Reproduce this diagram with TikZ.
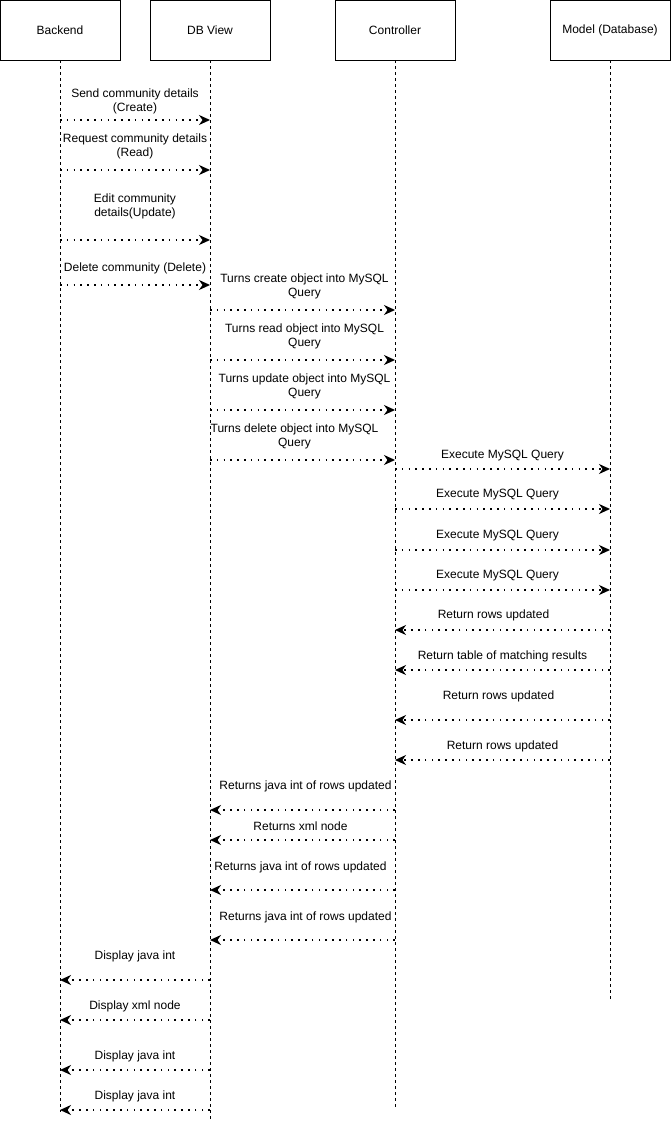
\documentclass[tikz,border=0pt]{standalone}
\usepackage{fontspec}
\setmainfont{Liberation Sans}
\usetikzlibrary{arrows.meta}
\begin{document}
\begin{tikzpicture}[x=1pt, y=-1pt,
    box/.style={draw, line width=0.8pt, minimum width=120pt, minimum height=60pt, inner sep=0pt, font=\fontsize{12}{14}\selectfont},
    life/.style={line width=0.7pt, dash pattern=on 3pt off 3pt},
    msg/.style={-{Stealth[length=11pt, width=10pt, inset=3.5pt]}, line width=1.6pt, dash pattern=on 1.6pt off 5.2pt},
    lbl/.style={align=center, font=\fontsize{12}{14}\selectfont, inner sep=0pt}
]
    \useasboundingbox (0,0) rectangle (671,1122);

    % Participants
    \node[box] (backend) at (60,30) {Backend};
    \node[box] (dbview) at (210,30) {DB View};
    \node[box] (controller) at (395,30) {Controller};
    \node[box] (model) at (610,30) {Model (Database)};

    % Lifelines
    \coordinate (backendEnd) at (60,1112);
    \coordinate (dbviewEnd) at (210,1120);
    \coordinate (controllerEnd) at (395,1108);
    \coordinate (modelEnd) at (610,1000);
    \draw[life] (backend) -- (backendEnd);
    \draw[life] (dbview) -- (dbviewEnd);
    \draw[life] (controller) -- (controllerEnd);
    \draw[life] (model) -- (modelEnd);

    % Backend to DB View
    \draw[msg] (backend |- 0,120) -- node[lbl, yshift=19pt] {Send community details\\(Create)} (dbview |- 0,120);
    \draw[msg] (backend |- 0,170) -- node[lbl, yshift=24pt] {Request community details\\(Read)} (dbview |- 0,170);
    \draw[msg] (backend |- 0,240) -- node[lbl, yshift=34pt] {Edit community\\details(Update)} (dbview |- 0,240);
    \draw[msg] (backend |- 0,285) -- node[lbl, yshift=17pt] {Delete community (Delete)} (dbview |- 0,285);

    % DB View to Controller
    \draw[msg] (dbview |- 0,310) -- node[lbl, yshift=24pt, xshift=2pt] {Turns create object into MySQL\\Query} (controller |- 0,310);
    \draw[msg] (dbview |- 0,360) -- node[lbl, yshift=24pt, xshift=2pt] {Turns read object into MySQL\\Query} (controller |- 0,360);
    \draw[msg] (dbview |- 0,410) -- node[lbl, yshift=24pt, xshift=2pt] {Turns update object into MySQL\\Query} (controller |- 0,410);
    \draw[msg] (dbview |- 0,460) -- node[lbl, yshift=24pt, xshift=-8pt] {Turns delete object into MySQL\\Query} (controller |- 0,460);

    % Controller to Model
    \draw[msg] (controller |- 0,469) -- node[lbl, yshift=13pt] {Execute MySQL Query} (model |- 0,469);
    \draw[msg] (controller |- 0,509) -- node[lbl, yshift=14pt, xshift=-5pt] {Execute MySQL Query} (model |- 0,509);
    \draw[msg] (controller |- 0,550) -- node[lbl, yshift=14pt, xshift=-5pt] {Execute MySQL Query} (model |- 0,550);
    \draw[msg] (controller |- 0,590) -- node[lbl, yshift=14pt, xshift=-5pt] {Execute MySQL Query} (model |- 0,590);

    % Model back to Controller
    \draw[msg] (model |- 0,630) -- node[lbl, yshift=15pt, xshift=-9pt] {Return rows updated} (controller |- 0,630);
    \draw[msg] (model |- 0,670) -- node[lbl, yshift=14pt] {Return table of matching results} (controller |- 0,670);
    \draw[msg] (model |- 0,720) -- node[lbl, yshift=24pt, xshift=-4pt] {Return rows updated} (controller |- 0,720);
    \draw[msg] (model |- 0,760) -- node[lbl, yshift=14pt] {Return rows updated} (controller |- 0,760);

    % Controller back to DB View
    \draw[msg] (controller |- 0,810) -- node[lbl, yshift=24pt, xshift=3pt] {Returns java int of rows updated} (dbview |- 0,810);
    \draw[msg] (controller |- 0,840) -- node[lbl, yshift=14pt, xshift=-2pt] {Returns xml node} (dbview |- 0,840);
    \draw[msg] (controller |- 0,890) -- node[lbl, yshift=23pt, xshift=-2pt] {Returns java int of rows updated} (dbview |- 0,890);
    \draw[msg] (controller |- 0,940) -- node[lbl, yshift=23pt, xshift=3pt] {Returns java int of rows updated} (dbview |- 0,940);

    % DB View back to Backend
    \draw[msg] (dbview |- 0,980) -- node[lbl, yshift=24pt] {Display java int} (backend |- 0,980);
    \draw[msg] (dbview |- 0,1020) -- node[lbl, yshift=14pt] {Display xml node} (backend |- 0,1020);
    \draw[msg] (dbview |- 0,1070) -- node[lbl, yshift=14pt] {Display java int} (backend |- 0,1070);
    \draw[msg] (dbview |- 0,1110) -- node[lbl, yshift=14pt] {Display java int} (backend |- 0,1110);
\end{tikzpicture}
\end{document}
